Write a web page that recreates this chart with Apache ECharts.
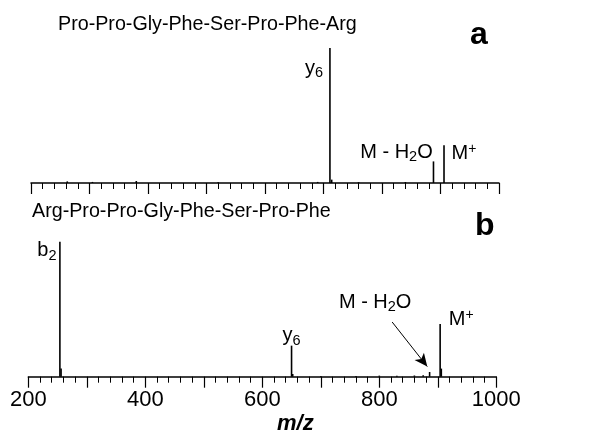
<!DOCTYPE html>
<html>
<head>
<meta charset="utf-8">
<script src="https://cdn.jsdelivr.net/npm/echarts@6/dist/echarts.min.js"></script>
<style>
html,body{margin:0;padding:0;background:#fff;}
#c{width:592px;height:435px;}
</style>
</head>
<body>
<div id="c"></div>
<script>
// ---- data ----
const titleA = 'Pro-Pro-Gly-Phe-Ser-Pro-Phe-Arg';
const titleB = 'Arg-Pro-Pro-Gly-Phe-Ser-Pro-Phe';
const panelLetters = ['a', 'b'];
const xTickLabels = [200, 400, 600, 800, 1000];
const axisName = 'm/z';

// panel a main peaks
const peakMzA = [711, 888, 906];
const peakIntA = [100, 16, 28];
const peakLabelA = ['y{s|6}', 'M - H{s|2}O', 'M{p|+}'];
// panel a small baseline peaks
const noiseMzA = [262, 305, 380, 520, 690, 714, 760, 840];
const noiseIntA = [1.2, 0.8, 1.5, 0.6, 0.8, 2.5, 0.6, 0.7];

// panel b main peaks
const peakMzB = [254, 650, 886, 904];
const peakIntB = [100, 23, 3.5, 39];
const peakLabelB = ['b{s|2}', 'y{s|6}', '', 'M{p|+}'];
// panel b small baseline peaks
const noiseMzB = [256, 652, 700, 760, 800, 830, 860, 875, 906];
const noiseIntB = [6, 2, 0.6, 0.6, 0.8, 0.7, 0.9, 1.0, 6];
// arrow pointing to M - H2O in panel b (data coords)
const arrowB = [[822, 40.5], [882, 7.5]];
const arrowLabelB = 'M - H{s|2}O';

// ---- styles ----
const FONT = 'Liberation Sans, Arial, Helvetica, sans-serif';
const rich = {
  s: {fontSize: 14.5, fontFamily: FONT, color: '#000', padding: [10, 0, 0, 0]},
  p: {fontSize: 14, fontFamily: FONT, color: '#000', padding: [0, 0, 8, 0]}
};
const labelOffsetsA = [[-16, 20], [-37, -9], [20, 8]];
const labelOffsetsB = [[-13, 9], [0, -10], [0, 0], [21, -5]];

function buildPeaks(mz, inten, labels, offsets) {
  return mz.map((m, i) => ({
    value: [m, inten[i]],
    label: labels[i] ? {
      show: true, position: 'top', distance: 0,
      align: 'center', verticalAlign: 'middle',
      offset: offsets[i], formatter: labels[i],
      fontSize: 20, fontFamily: FONT, color: '#000', rich: rich
    } : {show: false}
  }));
}
function buildNoise(mz, inten) {
  return mz.map((m, i) => [m, inten[i]]);
}

const commonX = {
  type: 'value', min: 200, max: 1000, interval: 100,
  axisLine: {show: true, onZero: false, lineStyle: {color: '#000', width: 1.5}},
  axisTick: {show: true, inside: false, length: 11, lineStyle: {color: '#000', width: 1.2}},
  minorTick: {show: true, splitNumber: 5, length: 6, lineStyle: {color: '#000', width: 1}},
  splitLine: {show: false},
  minorSplitLine: {show: false}
};

const chart = echarts.init(document.getElementById('c'), null, {renderer: 'canvas'});
chart.setOption({
  animation: false,
  backgroundColor: '#fff',
  grid: [
    {left: 31, width: 468, top: 48, height: 135},
    {left: 28.3, width: 468, top: 241.7, height: 135}
  ],
  xAxis: [
    Object.assign({}, commonX, {gridIndex: 0, axisLabel: {show: false}}),
    Object.assign({}, commonX, {gridIndex: 1,
      axisLabel: {show: true, margin: 12, fontSize: 22, fontFamily: FONT, color: '#000',
        formatter: v => xTickLabels.indexOf(v) >= 0 ? String(v) : ''}})
  ],
  yAxis: [
    {type: 'value', gridIndex: 0, min: 0, max: 100, show: false},
    {type: 'value', gridIndex: 1, min: 0, max: 100, show: false}
  ],
  series: [
    {type: 'bar', xAxisIndex: 0, yAxisIndex: 0, barWidth: 1.6, itemStyle: {color: '#000'},
      data: buildNoise(noiseMzA, noiseIntA), barGap: '-100%'},
    {type: 'bar', xAxisIndex: 0, yAxisIndex: 0, barWidth: 1.6, itemStyle: {color: '#000'},
      data: buildPeaks(peakMzA, peakIntA, peakLabelA, labelOffsetsA), barGap: '-100%'},
    {type: 'bar', xAxisIndex: 1, yAxisIndex: 1, barWidth: 1.6, itemStyle: {color: '#000'},
      data: buildNoise(noiseMzB, noiseIntB), barGap: '-100%'},
    {type: 'bar', xAxisIndex: 1, yAxisIndex: 1, barWidth: 1.6, itemStyle: {color: '#000'},
      data: buildPeaks(peakMzB, peakIntB, peakLabelB, labelOffsetsB), barGap: '-100%',
      markLine: {
        silent: true, symbol: ['none', 'arrow'], symbolSize: [9, 13],
        lineStyle: {color: '#000', width: 1, type: 'solid'},
        label: {show: false},
        data: [[{coord: arrowB[0]}, {coord: arrowB[1]}]]
      },
      markPoint: {
        symbol: 'circle', symbolSize: 0,
        data: [{coord: arrowB[0], label: {show: true, formatter: arrowLabelB, offset: [-17, -20],
          fontSize: 20, fontFamily: FONT, color: '#000', rich: rich}}]
      }
    }
  ],
  graphic: [
    {type: 'text', left: 58, top: 15, style: {text: titleA, fontSize: 19.7, fontFamily: FONT, fill: '#000'}},
    {type: 'text', left: 32, top: 202, style: {text: titleB, fontSize: 19.7, fontFamily: FONT, fill: '#000'}},
    {type: 'text', left: 470, top: 19, style: {text: panelLetters[0], fontSize: 32, fontWeight: 'bold', fontFamily: FONT, fill: '#000'}},
    {type: 'text', left: 475, top: 210, style: {text: panelLetters[1], fontSize: 32, fontWeight: 'bold', fontFamily: FONT, fill: '#000'}},
    {type: 'text', left: 277, top: 413, style: {text: axisName, fontSize: 22, fontWeight: 'bold', fontStyle: 'italic', fontFamily: FONT, fill: '#000'}}
  ]
});
</script>
</body>
</html>
